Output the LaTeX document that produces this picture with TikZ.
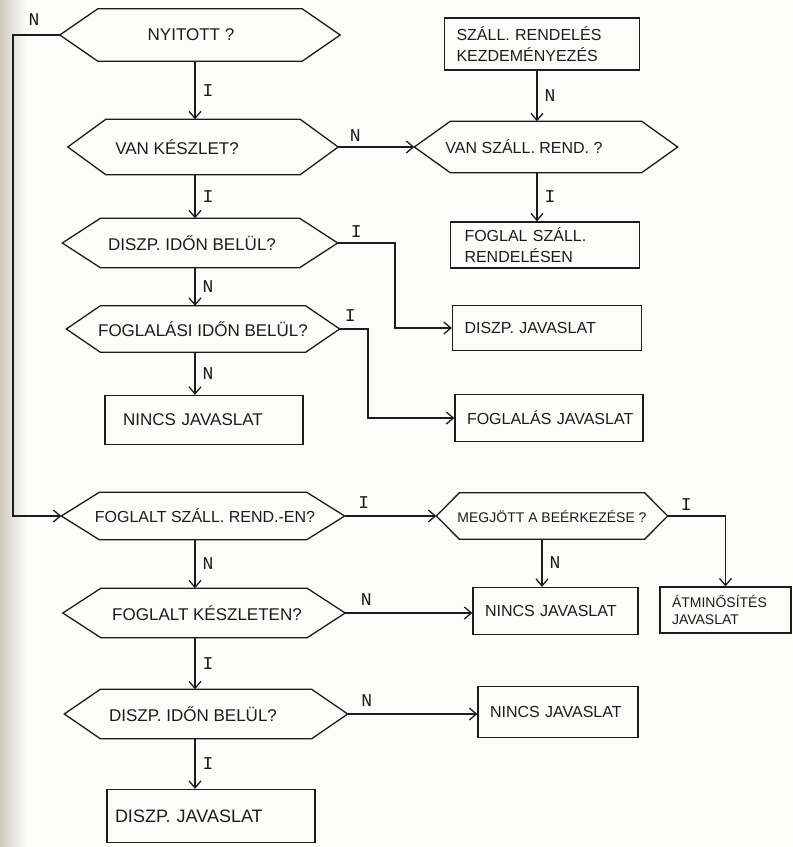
\documentclass[tikz,border=0pt]{standalone}
\usepackage{fontspec}
\setmainfont{Liberation Sans}
\newfontfamily\tagfont{Liberation Mono}
\usetikzlibrary{arrows.meta,positioning,calc}

\definecolor{ink}{HTML}{1C1C1C}
\definecolor{paper}{HTML}{FCFCFA}
\definecolor{edgegrey}{HTML}{CFCABD}

\tikzset{
  outline/.style={draw=ink, line width=1.3pt, line join=miter},
  hexa/.style={rectangle, inner sep=0pt, font=\fontsize{17}{20}\selectfont, text=ink},
  box/.style={rectangle, draw=ink, line width=1.3pt, inner xsep=12pt, inner ysep=0pt,
              align=left, font=\fontsize{16}{21}\selectfont, text=ink},
  flow/.style={draw=ink, line width=1.3pt,
               -{Straight Barb[length=7pt,width=12pt,line width=1.3pt]}},
  lbl/.style={font=\tagfont\fontsize{18}{18}\selectfont, text=ink, inner sep=1pt},
}

% decision node: #1 tip length, #2 name, #3 centre, #4 width, #5 height,
% #6 horizontal offset of the text, #7 text
\newcommand\hexnode[7][38pt]{%
  \node[hexa, minimum width=#4, minimum height=#5] (#2) at (#3) {\kern#6#7\kern-#6};
  \draw[outline] ([xshift=#1]#2.north west) -- ([xshift=-#1]#2.north east)
    -- (#2.east) -- ([xshift=-#1]#2.south east) -- ([xshift=#1]#2.south west)
    -- (#2.west) -- cycle;
}

\begin{document}
\begin{tikzpicture}[x=1pt, y=-1pt]
  % paper
  \fill[paper] (0,0) rectangle (793,847);
  \shade[left color=edgegrey, right color=paper] (0,0) rectangle (26,847);
  \useasboundingbox (0,0) rectangle (793,847);

  % left column: stock checks
  \hexnode{nyit}{200,35}{280pt}{52pt}{-9pt}{NYITOTT ?}
  \hexnode{vank}{203,147}{270pt}{55pt}{-26pt}{VAN KÉSZLET?}
  \hexnode{disz1}{200,243}{275pt}{49pt}{-8pt}{DISZP. IDŐN BELÜL?}
  \hexnode[34pt]{fogl}{203,329}{273pt}{46pt}{0pt}{FOGLALÁSI IDŐN BELÜL?}
  \node[box, text width=174pt, inner xsep=12pt, minimum height=49pt, font=\fontsize{17}{20}\selectfont] (nincs1) at (204,420) {\hspace*{6pt}NINCS JAVASLAT};

  % right column: supplier orders
  \node[box, text width=171pt, minimum height=52pt] (szrk) at (542,44) {SZÁLL. RENDELÉS\\KEZDEMÉNYEZÉS};
  \hexnode[36pt]{vansz}{546,147}{263pt}{51pt}{-22pt}{\fontsize{16}{18}\selectfont VAN SZÁLL. REND. ?}
  \node[box, text width=161pt, inner xsep=14pt, minimum height=46pt] (foglsz) at (545,245) {FOGLAL SZÁLL.\\RENDELÉSEN};
  \node[box, text width=165pt, minimum height=45pt] (diszjav1) at (547,328) {DISZP. JAVASLAT};
  \node[box, text width=172pt, inner xsep=8pt, minimum height=47pt] (foglj) at (549,418) {\hspace*{4pt}FOGLALÁS JAVASLAT};

  % lower part: reserved items
  \hexnode{foglsz2}{203,516}{283pt}{47pt}{2pt}{\fontsize{16}{18}\selectfont FOGLALT SZÁLL. REND.-EN?}
  \hexnode[23pt]{megj}{552,516}{231pt}{46pt}{0pt}{\fontsize{14}{16}\selectfont MEGJÖTT A BEÉRKEZÉSE ?}
  \node[box, text width=107pt, minimum height=46pt, font=\fontsize{14}{17}\selectfont] (atm) at (725.5,610) {ÁTMINŐSÍTÉS\\JAVASLAT};
  \hexnode{fogk}{204,613}{282pt}{49pt}{3pt}{FOGLALT KÉSZLETEN?}
  \node[box, text width=141pt, minimum height=47pt] (nincs2) at (555.5,611) {NINCS JAVASLAT};
  \hexnode[36pt]{disz2}{206,714}{283pt}{49pt}{-13pt}{DISZP. IDŐN BELÜL?}
  \node[box, text width=136pt, minimum height=51pt] (nincs3) at (558,712) {NINCS JAVASLAT};
  \node[box, text width=192pt, inner xsep=8pt, minimum height=53pt, font=\fontsize{18}{20}\selectfont] (diszjav2) at (211,816) {DISZP. JAVASLAT};

  % routing columns
  \coordinate (colA) at (195,0);
  \coordinate (colB) at (537,0);
  \coordinate (colC) at (542,0);
  \coordinate (loopx) at (13,0);
  \coordinate (jog1) at (395,280);
  \coordinate (jog2) at (368,370);

  % connectors
  \draw[flow] (nyit.south -| colA) -- (vank.north -| colA) node[lbl, midway, right=6pt] (l1) {I};
  \draw[flow] (vank.south -| colA) -- (disz1.north -| colA) node[lbl, midway, right=6pt] (l2) {I};
  \draw[flow] (disz1.south -| colA) -- (fogl.north -| colA) node[lbl, midway, right=6pt] (l3) {N};
  \draw[flow] (fogl.south -| colA) -- (nincs1.north -| colA) node[lbl, midway, right=6pt] (l4) {N};
  \draw[flow] (vank.east) -- (vansz.west) node[lbl, pos=0, above right=4pt and 10pt] (l5) {N};
  \draw[flow] (szrk.south -| colB) -- (vansz.north -| colB) node[lbl, midway, right=6pt] (l6) {N};
  \draw[flow] (vansz.south -| colB) -- (foglsz.north -| colB) node[lbl, midway, right=6pt] (l7) {I};
  \draw[flow] (disz1.east) -| (jog1) |- (diszjav1.west);
  \node[lbl, above right=4pt and 12pt] (l8) at (disz1.east) {I};
  \draw[flow] (fogl.east) -| (jog2) |- (foglj.west);
  \node[lbl, above right=6pt and 4pt] (l9) at (fogl.east) {I};
  \draw[flow] (nyit.west) -- (nyit.west -| loopx) |- (foglsz2.west);
  \node[lbl, above=8pt] (l10) at ($(nyit.west)!0.55!(nyit.west -| loopx)$) {N};
  \draw[flow] (foglsz2.east) -- (megj.west) node[lbl, pos=0, above right=6pt and 12pt] (l11) {I};
  \draw[flow] (foglsz2.south -| colA) -- (fogk.north -| colA) node[lbl, midway, right=6pt] (l12) {N};
  \draw[flow] (megj.south -| colC) -- (nincs2.north -| colC) node[lbl, midway, right=6pt] (l13) {N};
  \draw[flow] (megj.east) -| (atm.north);
  \node[lbl, above right=4pt and 12pt] (l14) at (megj.east) {I};
  \draw[flow] (fogk.east) -- (fogk.east -| nincs2.west) node[lbl, pos=0, above right=6pt and 14pt] (l15) {N};
  \draw[flow] (fogk.south -| colA) -- (disz2.north -| colA) node[lbl, midway, right=6pt] (l16) {I};
  \draw[flow] (disz2.east) -- (disz2.east -| nincs3.west) node[lbl, pos=0, above right=6pt and 12pt] (l17) {N};
  \draw[flow] (disz2.south -| colA) -- (diszjav2.north -| colA) node[lbl, midway, right=6pt] (l18) {I};
\end{tikzpicture}
\end{document}
